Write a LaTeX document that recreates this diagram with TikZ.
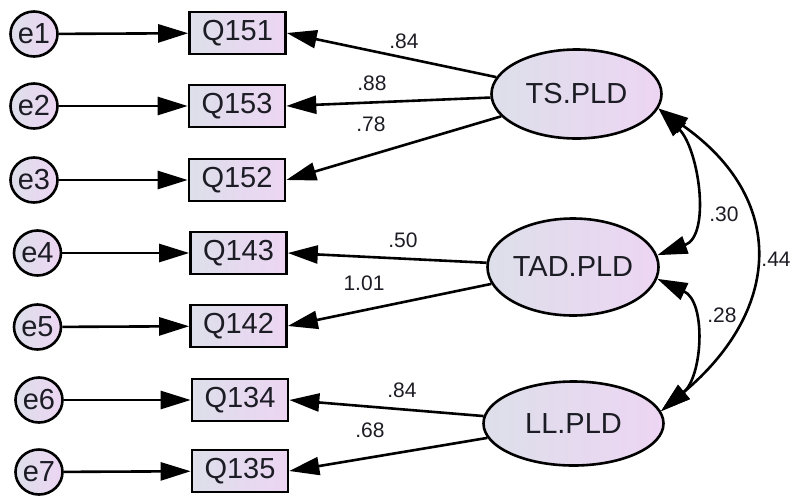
\documentclass[tikz,border=0pt]{standalone}
\usepackage{fontspec}
\setmainfont{Liberation Sans}
\usetikzlibrary{arrows.meta,shapes.geometric}
\definecolor{shadeL}{RGB}{221,223,234}
\definecolor{shadeR}{RGB}{237,213,243}
\definecolor{inkc}{RGB}{28,28,36}

\begin{document}
\begin{tikzpicture}[x=1pt,y=-1pt,
  >={Triangle[length=30pt,width=18pt]},
  every node/.style={text=inkc},
  obs/.style={draw, line width=2.6pt, left color=shadeL, right color=shadeR, minimum width=96pt, minimum height=42pt, inner sep=0pt, font=\fontsize{29}{34}\selectfont},
  err/.style={draw, ellipse, line width=2.6pt, left color=shadeL, right color=shadeR, minimum width=47pt, minimum height=45pt, inner sep=0pt, font=\fontsize{29}{34}\selectfont},
  lat/.style={draw, ellipse, line width=2.6pt, left color=shadeL, right color=shadeR, inner sep=0pt, font=\fontsize{29}{34}\selectfont},
  ld/.style={draw=black, line width=2.6pt},
  cov/.style={draw=black, line width=2.6pt, <->, looseness=1.0},
  lbl/.style={font=\fontsize{21}{25}\selectfont, inner sep=0pt},
]
\useasboundingbox (0,0) rectangle (790,496);
% ---------------- error terms ----------------
\node[err] (e1) at (34,34) {e1};
\node[err] (e2) at (34,106) {e2};
\node[err] (e3) at (34,180) {e3};
\node[err] (e4) at (37.5,253) {e4};
\node[err] (e5) at (37.5,327) {e5};
\node[err] (e6) at (39,400) {e6};
\node[err] (e7) at (39,472) {e7};
% ---------------- items ----------------
\node[obs] (q151) at (237.5,33) {Q151};
\node[obs] (q153) at (237,106) {Q153};
\node[obs] (q152) at (237,180) {Q152};
\node[obs] (q143) at (238.5,253) {Q143};
\node[obs] (q142) at (238.5,326) {Q142};
\node[obs] (q134) at (240,400) {Q134};
\node[obs] (q135) at (240,471) {Q135};
\draw[ld,->] (e1) -- (q151);
\draw[ld,->] (e2) -- (q153);
\draw[ld,->] (e3) -- (q152);
\draw[ld,->] (e4) -- (q143);
\draw[ld,->] (e5) -- (q142);
\draw[ld,->] (e6) -- (q134);
\draw[ld,->] (e7) -- (q135);
% ---------------- factors ----------------
\node[lat, minimum width=170pt, minimum height=89pt] (ts) at (576.5,94) {TS.PLD};
\node[lat, minimum width=171pt, minimum height=97pt] (tad) at (573,267) {TAD.PLD};
\node[lat, minimum width=180pt, minimum height=84pt] (ll) at (573.5,423.5) {LL.PLD};
\draw[ld,->] (ts) -- (q151.east);
\draw[ld,->] (ts) -- (q153.east);
\draw[ld,->] (ts) -- (q152.east);
\draw[ld,->] (tad) -- (q143.east);
\draw[ld,->] (tad) -- (q142.east);
\draw[ld,->] (ll) -- (q134.east);
\draw[ld,->] (ll) -- (q135.east);
\node[lbl] (w151) at (404,41) {.84};
\node[lbl] (w153) at (372,83) {.88};
\node[lbl] (w152) at (371,124) {.78};
\node[lbl] (w143) at (403,240) {.50};
\node[lbl] (w142) at (364,283) {1.01};
\node[lbl] (w134) at (402,390) {.84};
\node[lbl] (w135) at (370,430) {.68};
% ---------------- covariances ----------------
\draw[cov] (ts.-10) to[out=-45,in=20] (tad.8);
\draw[cov] (tad.-8) to[out=-25,in=40,looseness=1.05] (ll.8);
\draw[cov] (ts.-10) to[out=-35,in=40,looseness=1.33] (ll.8);
\node[lbl] (c1) at (724,214) {.30};
\node[lbl] (c2) at (722,315) {.28};
\node[lbl] (c3) at (776,259) {.44};
\end{tikzpicture}
\end{document}
